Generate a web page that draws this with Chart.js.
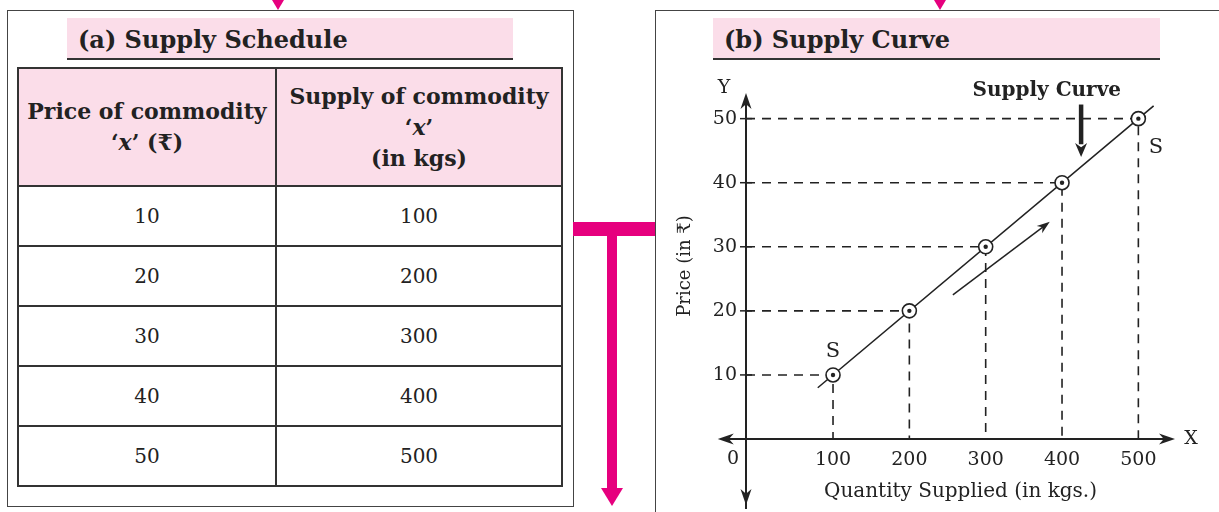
<!DOCTYPE html>
<html>
<head>
<meta charset="utf-8">
<script src="https://cdn.jsdelivr.net/npm/chart.js@4"></script>
<style>
  body { margin: 0; width: 1219px; height: 512px; position: relative; overflow: hidden; background: #fff; font-family: "DejaVu Serif", serif; color: #222; }
  .box { position: absolute; border: 1.5px solid #444; box-sizing: border-box; }
  .band { position: absolute; height: 42px; background: #fbdde9; border-bottom: 2px solid #333; font-weight: bold; font-size: 24px; line-height: 44px; padding-left: 11px; box-sizing: border-box; }
  table { position: absolute; left: 17px; top: 67px; width: 546px; border-collapse: collapse; }
  td, th { border: 2px solid #333; text-align: center; font-size: 20px; padding: 0; }
  th { background: #fbdde9; height: 116px; font-size: 22px; line-height: 31px; }
  td { height: 58px; }
  .mag { position: absolute; background: #e6007e; }
  .tri { position: absolute; width: 0; height: 0; border-left: 6px solid transparent; border-right: 6px solid transparent; border-top: 10px solid #e6007e; }
  #wrap { position: absolute; left: 655px; top: 62px; width: 564px; height: 450px; }
</style>
</head>
<body>
<div class="box" style="left:7px;top:10px;width:567px;height:497px"></div>
<div class="band" style="left:67px;top:18px;width:446px">(a) Supply Schedule</div>
<table id="sched"></table>

<div class="box" style="left:655px;top:10px;width:620px;height:530px"></div>
<div class="band" style="left:713px;top:18px;width:447px">(b) Supply Curve</div>

<div class="tri" style="left:272px;top:0"></div>
<div class="tri" style="left:934px;top:0"></div>
<div class="mag" style="left:573px;top:222px;width:82px;height:14px"></div>
<div class="mag" style="left:607px;top:236px;width:10px;height:254px"></div>
<div class="tri" style="left:601px;top:488px;border-left-width:11px;border-right-width:11px;border-top-width:18px"></div>

<div id="wrap"><canvas id="supplyChart" width="564" height="450"></canvas></div>

<script>
const prices = [10, 20, 30, 40, 50];
const quantities = [100, 200, 300, 400, 500];
const priceTicks = [10, 20, 30, 40, 50];
const quantityTicks = [100, 200, 300, 400, 500];
// supply line S-S, slightly past the first and last points
const curveX = [80, 520];
const curveY = [8, 52];

const xMin = -14, xMax = 548, yMin = 0, yMax = 54;
const FONT = '"DejaVu Serif", "Noto Sans", serif';

// table
const tbl = document.getElementById('sched');
tbl.innerHTML = `<tr><th>Price of commodity<br>‘<i>x</i>’ (₹)</th><th>Supply of commodity<br>‘<i>x</i>’<br>(in kgs)</th></tr>` +
  prices.map((p, i) => `<tr><td>${p}</td><td>${quantities[i]}</td></tr>`).join('');
tbl.rows[0].cells[0].style.width = '256px';

function arrowHead(ctx, x, y, ang, len, w) {
  ctx.save();
  ctx.translate(x, y);
  ctx.rotate(ang);
  ctx.beginPath();
  ctx.moveTo(0, 0);
  ctx.lineTo(-len, -w / 2);
  ctx.lineTo(-len * 0.7, 0);
  ctx.lineTo(-len, w / 2);
  ctx.closePath();
  ctx.fill();
  ctx.restore();
}

const axesPlugin = {
  id: 'axesPlugin',
  afterDraw(chart) {
    const ctx = chart.ctx;
    const xs = chart.scales.x, ys = chart.scales.y;
    const ox = xs.getPixelForValue(xMin), oy = ys.getPixelForValue(yMin);
    const top = ys.getPixelForValue(yMax), bot = ys.getPixelForValue(-10.3);
    const left = xs.getPixelForValue(-51), right = xs.getPixelForValue(xMax);
    ctx.save();
    ctx.strokeStyle = '#222';
    ctx.fillStyle = '#222';
    ctx.lineWidth = 2;
    ctx.beginPath();
    ctx.moveTo(ox, bot + 4); ctx.lineTo(ox, top + 4);
    ctx.moveTo(left + 4, oy); ctx.lineTo(right - 4, oy);
    ctx.stroke();
    arrowHead(ctx, ox, top, -Math.PI / 2, 16, 11);
    arrowHead(ctx, ox, bot, Math.PI / 2, 16, 11);
    arrowHead(ctx, left, oy, Math.PI, 16, 11);
    arrowHead(ctx, right, oy, 0, 16, 11);
    // tick crosses on Y
    ctx.lineWidth = 1.5;
    priceTicks.forEach(v => {
      const py = ys.getPixelForValue(v);
      ctx.beginPath(); ctx.moveTo(ox - 6, py); ctx.lineTo(ox + 6, py); ctx.stroke();
    });
    ctx.font = '19px ' + FONT;
    ctx.textAlign = 'center';
    ctx.textBaseline = 'middle';
    ctx.fillText('0', ox - 13, oy + 20);
    ctx.fillText('X', right + 16, oy);
    ctx.fillText('Y', ox - 22, top - 5);
    ctx.font = '21px ' + FONT;
    ctx.fillText('S', xs.getPixelForValue(100), ys.getPixelForValue(13.6));
    ctx.fillText('S', xs.getPixelForValue(523), ys.getPixelForValue(45.5));
    ctx.font = 'bold 20px ' + FONT;
    ctx.fillText('Supply Curve', xs.getPixelForValue(380), ys.getPixelForValue(54.3));
    // thick pointer to the curve
    const ax = xs.getPixelForValue(425);
    ctx.lineWidth = 4.5;
    ctx.beginPath(); ctx.moveTo(ax, ys.getPixelForValue(52.2)); ctx.lineTo(ax, ys.getPixelForValue(46)); ctx.stroke();
    arrowHead(ctx, ax, ys.getPixelForValue(44), Math.PI / 2, 14, 12);
    // small arrow along the curve
    const x1 = xs.getPixelForValue(257), y1 = ys.getPixelForValue(22.5);
    const x2 = xs.getPixelForValue(384), y2 = ys.getPixelForValue(33.9);
    const ang = Math.atan2(y2 - y1, x2 - x1);
    ctx.lineWidth = 1.5;
    ctx.beginPath(); ctx.moveTo(x1, y1); ctx.lineTo(x2 - 8 * Math.cos(ang), y2 - 8 * Math.sin(ang)); ctx.stroke();
    arrowHead(ctx, x2, y2, ang, 13, 9);
    ctx.restore();
  }
};

const guides = prices.map((p, i) => ({
  data: [{ x: xMin, y: p }, { x: quantities[i], y: p }, { x: quantities[i], y: yMin }],
  showLine: true, borderColor: '#222', borderWidth: 1.6, borderDash: [9, 7], pointRadius: 0, order: 4
}));

const pts = prices.map((p, i) => ({ x: quantities[i], y: p }));

new Chart(document.getElementById('supplyChart').getContext('2d'), {
  type: 'scatter',
  data: {
    datasets: [
      ...guides,
      { data: curveX.map((x, i) => ({ x, y: curveY[i] })), showLine: true, borderColor: '#222', borderWidth: 1.6, pointRadius: 0, order: 3 },
      { data: pts, pointRadius: 7, pointBackgroundColor: '#fff', pointBorderColor: '#222', pointBorderWidth: 1.6, order: 2, clip: false },
      { data: pts, pointRadius: 2.2, pointBackgroundColor: '#222', pointBorderWidth: 0, order: 1, clip: false }
    ]
  },
  options: {
    responsive: false,
    animation: false,
    layout: { padding: { top: 31, right: 44 } },
    plugins: { legend: { display: false }, tooltip: { enabled: false } },
    scales: {
      x: {
        type: 'linear', min: xMin, max: xMax,
        afterFit: s => { s.height = 73; },
        afterBuildTicks: s => { s.ticks = quantityTicks.map(v => ({ value: v })); },
        grid: { display: false }, border: { display: false },
        ticks: { color: '#222', font: { family: FONT, size: 19 }, padding: 2, maxRotation: 0 },
        title: { display: true, text: 'Quantity Supplied (in kgs.)', color: '#222', font: { family: FONT, size: 20 }, padding: { top: 0, bottom: 8 } }
      },
      y: {
        min: yMin, max: yMax,
        afterFit: s => { s.width = 91; },
        afterBuildTicks: s => { s.ticks = priceTicks.map(v => ({ value: v })); },
        grid: { display: false }, border: { display: false },
        ticks: { color: '#222', font: { family: FONT, size: 19 }, padding: 1 },
        title: { display: true, text: 'Price (in ₹)', color: '#222', font: { family: FONT, size: 18 }, padding: { top: 20, bottom: 0 } }
      }
    }
  },
  plugins: [axesPlugin]
});
</script>
</body>
</html>
